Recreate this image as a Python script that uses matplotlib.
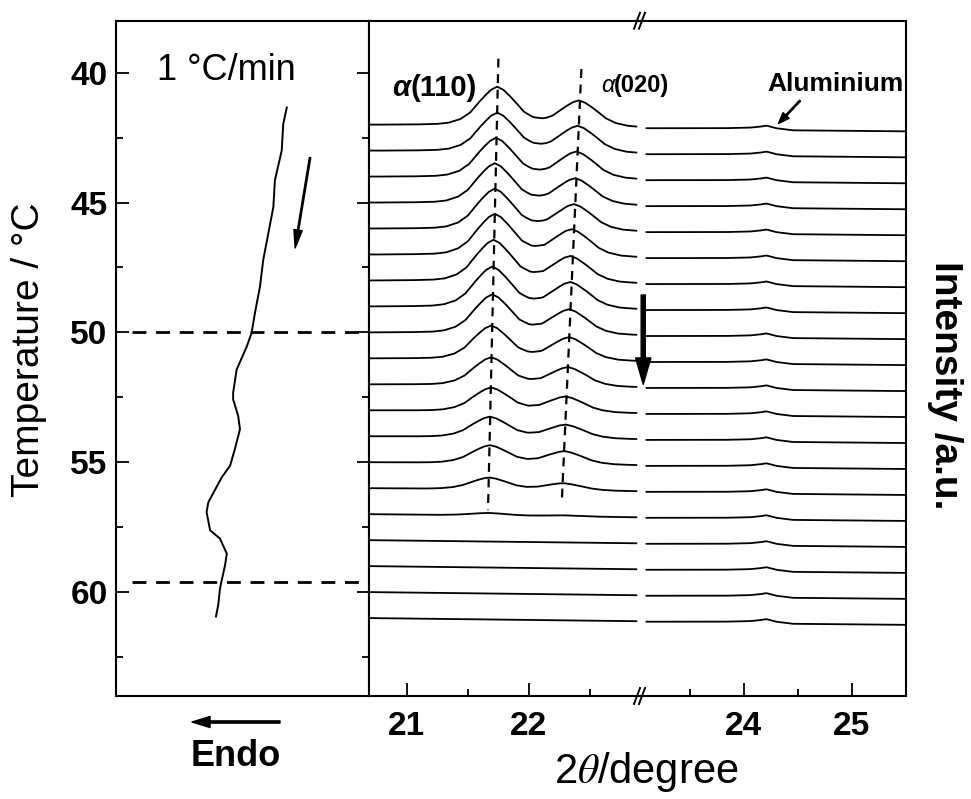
import numpy as np
import matplotlib.pyplot as plt
from matplotlib.lines import Line2D

plt.rcParams['font.family'] = ['Liberation Sans', 'DejaVu Sans']
plt.rcParams['mathtext.fontset'] = 'stix'

# DSC cooling trace, 1 °C/min (heat flow in a.u., temperature in °C)
dsc_temp = [41.34, 41.98, 43.0, 44.15, 45.17, 46.19, 47.21, 48.24, 49.26, 50.02,
            50.54, 51.43, 52.32, 52.58, 53.22, 53.73, 54.49, 55.13, 55.58, 56.54,
            56.92, 57.62, 57.94, 58.52, 58.97, 59.54, 59.86, 60.50, 60.94]
dsc_flow = [6.75, 6.61, 6.55, 6.28, 6.22, 6.02, 5.82, 5.69, 5.49, 5.36,
            5.17, 4.77, 4.63, 4.63, 4.83, 4.90, 4.70, 4.51, 4.18, 3.65,
            3.58, 3.72, 4.11, 4.38, 4.31, 4.18, 4.11, 4.04, 3.95]
dsc_marks = [50.0, 59.62]

# WAXD scans taken every 1 °C on cooling
scan_temp = [42, 43, 44, 45, 46, 47, 48, 49, 50, 51,
             52, 53, 54, 55, 56, 57, 58, 59, 60, 61]
peak110_pos = [21.74, 21.74, 21.73, 21.72, 21.72, 21.72, 21.71, 21.70, 21.70, 21.69,
               21.69, 21.69, 21.68, 21.68, 21.675, 21.67, 21.67, 21.67, 21.67, 21.67]
peak110_amp = [1.50, 1.50, 1.53, 1.55, 1.57, 1.60, 1.60, 1.57, 1.50, 1.30,
               1.08, 0.92, 0.80, 0.70, 0.46, 0.10, 0.0, 0.0, 0.0, 0.0]
peak020_pos = [22.41, 22.40, 22.39, 22.38, 22.37, 22.35, 22.34, 22.34, 22.33, 22.33,
               22.32, 22.30, 22.30, 22.29, 22.28, 22.28, 22.28, 22.28, 22.28, 22.28]
peak020_amp = [1.00, 1.02, 1.03, 1.00, 1.00, 1.03, 1.00, 1.00, 0.95, 0.88,
               0.73, 0.60, 0.52, 0.50, 0.27, 0.04, 0.0, 0.0, 0.0, 0.0]

shape_dx = [-1.0, -0.7, -0.5, -0.4, -0.3, -0.22, -0.15, -0.1, -0.05, 0.0,
            0.05, 0.1, 0.15, 0.22, 0.3, 0.4, 0.5, 0.7, 1.0]
shape_h = [0.0, 0.015, 0.035, 0.07, 0.17, 0.34, 0.60, 0.77, 0.92, 1.0,
           0.92, 0.77, 0.60, 0.34, 0.17, 0.07, 0.035, 0.015, 0.0]

# baseline drift (downwards, in scan spacings) incl. the aluminium pan reflection
left_bg_x = [20.70, 22.88]
left_bg = [0.0, 0.12]
right_bg_x = [23.10, 23.80, 24.05, 24.15, 24.21, 24.30, 24.45, 25.0, 25.5]
right_bg = [0.14, 0.14, 0.12, 0.08, 0.04, 0.14, 0.22, 0.24, 0.26]

W, H = 971, 799
fig = plt.figure(figsize=(W / 100, H / 100), dpi=100)


def px_box(x0, y0, x1, y1):
    return [x0 / W, 1 - y1 / H, (x1 - x0) / W, (y1 - y0) / H]


ax_dsc = fig.add_axes(px_box(116, 20.7, 369, 696))
ax_a = fig.add_axes(px_box(369, 20.7, 640, 696))
ax_b = fig.add_axes(px_box(640, 20.7, 906, 696))
ax_b.patch.set_visible(False)

for ax in (ax_dsc, ax_a, ax_b):
    for sp in ax.spines.values():
        sp.set_linewidth(1.5)
    ax.set_ylim(64, 38)

# ---- DSC panel ----
ax_dsc.plot(dsc_flow, dsc_temp, color='k', lw=1.4)
for t in dsc_marks:
    ax_dsc.plot([0.65, 9.6], [t, t], color='k', lw=2, ls=(0, (5, 3.5)))
ax_dsc.set_xlim(0, 10)
ax_dsc.set_xticks([])
ax_dsc.set_yticks([40, 45, 50, 55, 60])
ax_dsc.set_yticks([42.5, 47.5, 52.5, 57.5, 62.5], minor=True)
ax_dsc.tick_params(axis='y', which='both', direction='in', left=True, right=True,
                   width=1.3, labelsize=24, pad=6)
ax_dsc.tick_params(axis='y', which='major', length=9)
ax_dsc.tick_params(axis='y', which='minor', length=5)
for lab in ax_dsc.get_yticklabels():
    lab.set_fontweight('bold')
ax_dsc.text(4.35, 39.93, '1 °C/min', fontsize=26, ha='center', va='center')
ax_dsc.annotate('', xy=(7.08, 46.75), xytext=(7.67, 43.27),
                arrowprops=dict(width=1.0, headwidth=6, headlength=13, color='k', shrink=0))

# ---- WAXD panels (broken 2theta axis) ----
xa = np.linspace(left_bg_x[0], left_bg_x[-1], 600)
xb = np.linspace(right_bg_x[0], right_bg_x[-1], 300)
for t, p1, a1, p2, a2 in zip(scan_temp, peak110_pos, peak110_amp, peak020_pos, peak020_amp):
    ya = (t + np.interp(xa, left_bg_x, left_bg)
          - a1 * np.interp(xa - p1, shape_dx, shape_h)
          - a2 * np.interp(xa - p2, shape_dx, shape_h))
    yb = t + np.interp(xb, right_bg_x, right_bg)
    ax_a.plot(xa, ya, color='k', lw=1.3)
    ax_b.plot(xb, yb, color='k', lw=1.3)

ax_a.plot([21.75, 21.665], [39.46, 56.85], color='k', lw=1.6, ls=(0, (4, 3)))
ax_a.plot([22.43, 22.27], [39.86, 56.46], color='k', lw=1.6, ls=(0, (4, 3)))

ax_a.set_xlim(20.69, 22.91)
ax_b.set_xlim(23.04, 25.5)
ax_a.set_xticks([21, 22])
ax_a.set_xticks([21.5, 22.5], minor=True)
ax_b.set_xticks([24, 25])
ax_b.set_xticks([23.5, 24.5], minor=True)
ax_a.spines['right'].set_visible(False)
ax_b.spines['left'].set_visible(False)
for ax in (ax_a, ax_b):
    ax.set_yticks([])
    ax.tick_params(axis='x', which='both', direction='in', width=1.3,
                   labelsize=24, pad=11)
    ax.tick_params(axis='x', which='major', length=9.5)
    ax.tick_params(axis='x', which='minor', length=5)
    for lab in ax.get_xticklabels():
        lab.set_fontweight('bold')

# peak labels
ax_a.text(21.03, 40.6, '(110)', fontsize=21, fontweight='bold', ha='left', va='center')
ax_a.text(21.03, 40.6, 'α', fontsize=21, fontweight='bold', style='italic', ha='right', va='center')
ax_a.text(22.70, 40.5, '(020)', fontsize=17, fontweight='bold', ha='left', va='center', zorder=5)
ax_a.text(22.70, 40.5, 'α', fontsize=17, style='italic', ha='right', va='center')
ax_b.text(25.48, 40.45, 'Aluminium', fontsize=19, fontweight='bold', ha='right', va='center')
ax_b.annotate('', xy=(24.32, 41.96), xytext=(24.52, 41.08),
              arrowprops=dict(width=1.0, headwidth=6, headlength=8, color='k', shrink=0))
ax_b.annotate('', xy=(23.07, 52.0), xytext=(23.07, 48.56),
              arrowprops=dict(width=3.0, headwidth=11, headlength=19, color='k', shrink=0))

# break marks on top and bottom spines
for yb_px in (20.7, 696):
    for dx in (-4, 1):
        x0, x1 = 640 + dx - 2, 640 + dx + 4
        fig.add_artist(Line2D([x0 / W, x1 / W], [1 - (yb_px + 8) / H, 1 - (yb_px - 8) / H],
                              color='k', lw=1.4))

# axis titles
fig.text(29 / W, 1 - 350 / H, 'Temperature / °C', fontsize=28, rotation=90,
         ha='center', va='center')
fig.text(945 / W, 1 - 385 / H, 'Intensity /a.u.', fontsize=28, fontweight='bold',
         rotation=-90, ha='center', va='center')
fig.text(646 / W, 1 - 772 / H, r'2$\mathit{\theta}$/degree', fontsize=30,
         ha='center', va='center')
fig.text(236 / W, 1 - 757 / H, 'Endo', fontsize=26, fontweight='bold',
         ha='center', va='center')
ax_dsc.annotate('', xy=(192, 799 - 722), xytext=(280, 799 - 722),
                xycoords='figure pixels', textcoords='figure pixels',
                arrowprops=dict(width=1.6, headwidth=8, headlength=13, color='k', shrink=0))

fig.savefig('out.png', dpi=100)
